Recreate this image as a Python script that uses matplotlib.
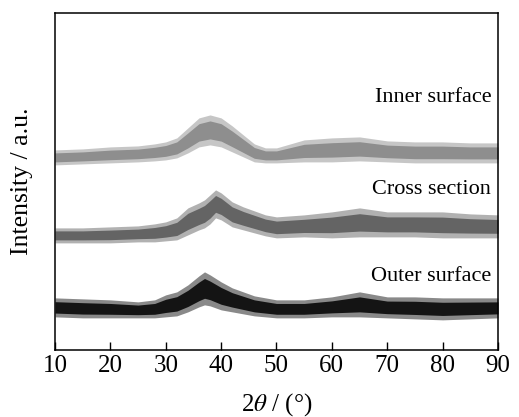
import matplotlib
matplotlib.use("Agg")
import matplotlib.pyplot as plt
import numpy as np

plt.rcParams['font.family'] = ['Liberation Serif', 'DejaVu Serif']
plt.rcParams['mathtext.fontset'] = 'stix'

# band edges (arbitrary intensity, plot bottom = 0)
inner_x = [10, 15, 20, 25, 28, 30, 32, 34, 36, 38, 40, 42, 44, 46, 48, 50, 55, 60, 65, 70, 75, 80, 85, 90]
inner_low = [185, 186, 187, 188, 189, 190, 192, 197, 203, 205, 203, 198, 193, 188, 187, 187,
             188, 188, 189, 188, 187, 187, 187, 187]
inner_high = [200, 201, 203, 204, 206, 208, 212, 222, 232, 235, 232, 224, 215, 206, 202, 202,
              210, 212, 213, 209, 208, 208, 207, 207]

cross_x = [10, 15, 20, 25, 28, 30, 32, 34, 36, 37, 38, 39, 40, 42, 44, 46, 48, 50, 55, 60, 65,
           70, 75, 80, 85, 90]
cross_low = [107, 107, 107, 108, 108, 109, 110, 115, 120, 122, 126, 132, 130, 123, 120, 117,
             114, 112, 113, 112, 113, 113, 113, 112, 112, 112]
cross_high = [122, 122, 123, 124, 126, 128, 132, 142, 147, 150, 155, 160, 157, 148, 143, 139,
              135, 133, 135, 138, 142, 138, 138, 138, 136, 135]

outer_x = [10, 15, 20, 25, 28, 30, 32, 34, 36, 37, 38, 40, 42, 44, 46, 48, 50, 55, 60, 65, 70,
           75, 80, 85, 90]
outer_low = [33, 32, 32, 32, 32, 33, 34, 38, 43, 45, 44, 40, 38, 36, 34, 33, 32, 32, 33, 33,
             32, 31, 30, 31, 32]
outer_high = [52, 51, 50, 48, 50, 55, 58, 65, 74, 78, 75, 68, 62, 58, 54, 52, 50, 50, 53, 58,
              53, 53, 52, 52, 52]

series = [
    ("Inner surface", inner_x, inner_low, inner_high, "#8e8e8e", 98),
    ("Cross section", cross_x, cross_low, cross_high, "#646464", 190),
    ("Outer surface", outer_x, outer_low, outer_high, "#141414", 277),
]

fig = plt.figure(figsize=(5.19, 4.17), dpi=100)
ax = fig.add_axes([0.106, 0.161, 0.8535, 0.808])

for name, xs, lo, hi, col, ypix in series:
    xs = np.array(xs, dtype=float)
    lo = np.array(lo, dtype=float)
    hi = np.array(hi, dtype=float)
    ax.fill_between(xs, lo, hi, color=col, alpha=0.5, lw=0)
    w = hi - lo
    ax.fill_between(xs, lo + 0.2 * w, hi - 0.2 * w, color=col, lw=0)
    ax.text(88.8, 350 - ypix, name, ha='right', va='center', fontsize=16)

ax.set_xlim(10, 90)
ax.set_ylim(0, 337)
ax.set_xticks(range(10, 91, 10))
ax.set_yticks([])
ax.tick_params(axis='x', direction='in', length=6, width=1, labelsize=18, pad=4)
for s in ax.spines.values():
    s.set_linewidth(1.1)

ax.set_xlabel(r"2$\theta$ / (°)", fontsize=18, labelpad=10)
ax.set_ylabel("Intensity / a.u.", fontsize=18.5, labelpad=16)

fig.savefig("out.png", dpi=100)
